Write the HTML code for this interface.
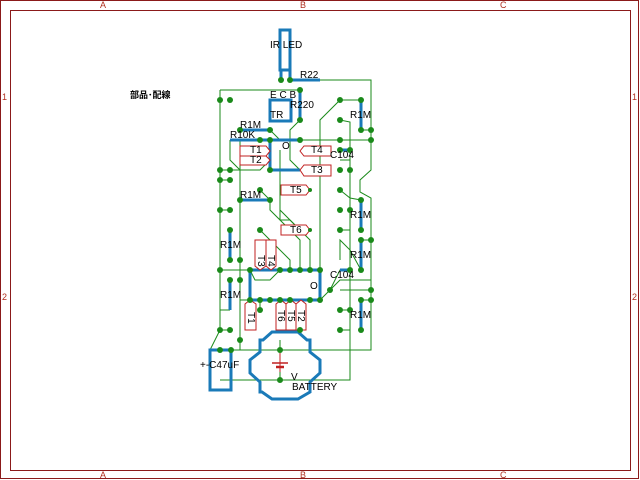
<!DOCTYPE html>
<html><head><meta charset="utf-8"><style>
html,body{margin:0;padding:0;background:#fff;width:640px;height:480px;overflow:hidden}
svg{display:block}
text{font-family:"Liberation Sans","Noto Sans CJK JP",sans-serif;font-size:10px;fill:#000}
.fr{fill:#b03020;font-size:9px}
.g{stroke:#1a8a1a;stroke-width:1;fill:none}
.b{stroke:#1a7ab8;stroke-width:3;fill:none}
.r{stroke:#c02020;stroke-width:1;fill:#fff}
</style></head><body>
<svg width="640" height="480" viewBox="0 0 640 480">
<rect x="0.5" y="0.5" width="638" height="478" fill="none" stroke="#8b1a1a"/>
<rect x="10.5" y="10.5" width="620" height="460" fill="none" stroke="#8b1a1a"/>
<text class="fr" x="100" y="8">A</text><text class="fr" x="300" y="8">B</text><text class="fr" x="500" y="8">C</text>
<text class="fr" x="100" y="478">A</text><text class="fr" x="300" y="478">B</text><text class="fr" x="500" y="478">C</text>
<text class="fr" x="2" y="100">1</text><text class="fr" x="2" y="300">2</text>
<text class="fr" x="632" y="100">1</text><text class="fr" x="632" y="300">2</text>
<text x="130" y="98" style="font-size:9px;font-weight:bold">部品･配線</text>

<g class="g">
<polyline points="320,80 371,80 371,170 360,180 360,192 371,198 371,350 240,350 240,200"/>
<polyline points="220,90 300,90"/>
<polyline points="220,90 220,330 210,350"/>
<polyline points="220,380 350,380 350,148"/>
<polyline points="300,140 371,140"/>
<polyline points="340,100 361,100"/>
<polyline points="340,100 320,120 320,270"/>
<polyline points="340,120 350,122 350,148"/>
<polyline points="230,140 230,160 240,170"/>
<polyline points="220,180 230,180"/>
<polyline points="220,170 260,170 270,160"/>
<polyline points="220,210 230,210"/>
<polyline points="240,140 240,200"/>
<polyline points="270,130 280,140"/>
<polyline points="300,120 290,130 290,160 300,170"/>
<polyline points="280,150 280,220 290,220 300,230"/>
<polyline points="260,190 270,200"/>
<polyline points="270,200 270,210 300,240 300,270"/>
<polyline points="280,200 280,210 310,240 310,270"/>
<polyline points="260,230 290,260 290,270"/>
<polyline points="220,270 250,270 255,280 270,280 280,270"/>
<polyline points="250,300 240,300 240,350"/>
<polyline points="260,300 260,310"/>
<polyline points="320,300 330,290 340,280 371,280"/>
<polyline points="330,290 340,270 350,270"/>
<polyline points="340,160 350,160"/>
<polyline points="340,190 350,198 361,200"/>
<polyline points="340,230 350,230"/>
<polyline points="340,260 340,240 350,250 361,270"/>
<polyline points="340,290 371,290"/>
<polyline points="340,310 350,310"/>
<polyline points="340,330 350,330"/>
<polyline points="361,130 371,130"/>
<polyline points="361,240 371,240"/>
<polyline points="361,300 371,300"/>
<polyline points="220,330 230,330"/>
<polyline points="220,310 230,310"/>
<polyline points="280,340 280,380"/>
<polyline points="280,300 300,330"/>
<polyline points="231,350 240,350"/>
</g>

<g class="b">
<rect x="280" y="30" width="10" height="40"/>
<polyline points="281,70 281,80"/><polyline points="290,70 290,80"/>
<line x1="290" y1="80" x2="320" y2="80"/>
<rect x="270" y="100" width="21" height="21"/>
<line x1="300" y1="90" x2="300" y2="120"/>
<line x1="240" y1="130" x2="270" y2="130"/>
<line x1="230" y1="140" x2="300" y2="140"/>
<line x1="270" y1="140" x2="270" y2="170"/>
<line x1="270" y1="170" x2="300" y2="170"/>
<line x1="240" y1="200" x2="270" y2="200"/>
<line x1="361" y1="100" x2="361" y2="130"/>
<line x1="340" y1="150" x2="350" y2="150"/>
<line x1="361" y1="200" x2="361" y2="230"/>
<line x1="361" y1="240" x2="361" y2="270"/>
<line x1="361" y1="300" x2="361" y2="330"/>
<line x1="340" y1="270" x2="350" y2="270"/>
<line x1="230" y1="230" x2="230" y2="260"/>
<line x1="230" y1="280" x2="230" y2="310"/>
<rect x="250" y="270" width="70" height="30"/>
<rect x="210" y="350" width="21" height="40"/>
<polygon points="272,332 298,332 307,340 310,340 310,352 320,360 320,373 310,382 310,392 298,399 272,399 262,392 260,392 260,382 250,373 250,360 260,352 260,340 263,340"/>
</g>

<g class="r">
<polygon points="240,146 266,146 270,151 266,156 240,156"/>
<polygon points="240,156 266,156 270,160 266,165 240,165"/>
<polygon points="304,146 331,146 331,156 304,156 300,151"/>
<polygon points="304,165 331,165 331,176 304,176 300,170"/>
<polygon points="281,185 306,185 310,190 306,195 281,195"/>
<polygon points="281,225 306,225 310,230 306,235 281,235"/>
<polygon points="255,240 266,240 266,266 260,270 255,266"/>
<polygon points="266,240 276,240 276,266 271,270 266,266"/>
<polygon points="245,304 250,300 256,304 256,330 245,330"/>
<polygon points="276,304 281,300 286,304 286,330 276,330"/>
<polygon points="286,304 291,300 296,304 296,330 286,330"/>
<polygon points="296,304 301,300 306,304 306,330 296,330"/>
<line x1="272" y1="363" x2="288" y2="363" stroke-width="1.5"/>
<line x1="276" y1="367" x2="284" y2="367" stroke-width="2.5"/>
<line x1="280" y1="352" x2="280" y2="372"/>
</g>

<g fill="#1a8a1a">
<circle cx="281" cy="80" r="3"/><circle cx="290" cy="80" r="3"/>
<circle cx="300" cy="90" r="3"/><circle cx="300" cy="120" r="3"/>
<circle cx="220" cy="100" r="3"/><circle cx="230" cy="100" r="3"/>
<circle cx="240" cy="130" r="3"/><circle cx="270" cy="130" r="3"/>
<circle cx="260" cy="140" r="3"/><circle cx="270" cy="140" r="3"/><circle cx="300" cy="140" r="3"/>
<circle cx="270" cy="170" r="3"/><circle cx="220" cy="170" r="3"/><circle cx="230" cy="170" r="3"/>
<circle cx="220" cy="180" r="3"/><circle cx="230" cy="180" r="3"/>
<circle cx="220" cy="210" r="3"/><circle cx="230" cy="210" r="3"/>
<circle cx="240" cy="200" r="3"/><circle cx="270" cy="200" r="3"/><circle cx="260" cy="190" r="3"/>
<circle cx="260" cy="230" r="3"/><circle cx="230" cy="230" r="3"/><circle cx="230" cy="260" r="3"/><circle cx="240" cy="260" r="3"/>
<circle cx="220" cy="270" r="3"/><circle cx="250" cy="270" r="3"/><circle cx="280" cy="270" r="3"/><circle cx="290" cy="270" r="3"/><circle cx="300" cy="270" r="3"/><circle cx="310" cy="270" r="3"/><circle cx="320" cy="270" r="3"/>
<circle cx="230" cy="280" r="3"/><circle cx="240" cy="280" r="3"/>
<circle cx="250" cy="300" r="3"/><circle cx="260" cy="300" r="3"/><circle cx="270" cy="300" r="3"/><circle cx="280" cy="300" r="3"/><circle cx="290" cy="300" r="3"/><circle cx="310" cy="300" r="3"/><circle cx="320" cy="300" r="3"/>
<circle cx="260" cy="310" r="3"/><circle cx="220" cy="330" r="3"/><circle cx="230" cy="330" r="3"/><circle cx="300" cy="330" r="3"/>
<circle cx="240" cy="340" r="3"/><circle cx="220" cy="350" r="3"/><circle cx="231" cy="350" r="3"/>
<circle cx="280" cy="350" r="3"/><circle cx="280" cy="380" r="3"/>
<circle cx="340" cy="100" r="3"/><circle cx="361" cy="100" r="3"/>
<circle cx="340" cy="120" r="3"/><circle cx="361" cy="130" r="3"/><circle cx="371" cy="130" r="3"/>
<circle cx="340" cy="140" r="3"/><circle cx="371" cy="140" r="3"/>
<circle cx="340" cy="150" r="3"/><circle cx="350" cy="150" r="3"/>
<circle cx="340" cy="170" r="3"/><circle cx="350" cy="170" r="3"/>
<circle cx="340" cy="190" r="3"/><circle cx="361" cy="200" r="3"/>
<circle cx="340" cy="210" r="3"/><circle cx="350" cy="210" r="3"/>
<circle cx="361" cy="230" r="3"/><circle cx="340" cy="230" r="3"/>
<circle cx="361" cy="240" r="3"/><circle cx="371" cy="240" r="3"/><circle cx="361" cy="270" r="3"/>
<circle cx="350" cy="270" r="3"/><circle cx="330" cy="290" r="3"/>
<circle cx="371" cy="290" r="3"/><circle cx="371" cy="300" r="3"/><circle cx="361" cy="300" r="3"/>
<circle cx="340" cy="310" r="3"/><circle cx="350" cy="310" r="3"/>
<circle cx="340" cy="330" r="3"/><circle cx="361" cy="330" r="3"/>
<circle cx="310" cy="190" r="2"/><circle cx="310" cy="230" r="2"/>
</g>

<text x="270" y="48">IR LED</text>
<text x="300" y="78">R22</text>
<text x="270" y="98">E C B</text>
<text x="270" y="118">TR</text>
<text x="290" y="108">R220</text>
<text x="240" y="128">R1M</text>
<text x="230" y="138">R10K</text>
<text x="282" y="149">O</text>
<text x="250" y="153">T1</text>
<text x="250" y="163">T2</text>
<text x="311" y="153">T4</text>
<text x="311" y="173">T3</text>
<text x="330" y="158">C104</text>
<text x="290" y="193">T5</text>
<text x="290" y="233">T6</text>
<text x="240" y="198">R1M</text>
<text x="350" y="118">R1M</text>
<text x="350" y="218">R1M</text>
<text x="350" y="258">R1M</text>
<text x="350" y="318">R1M</text>
<text x="220" y="248">R1M</text>
<text x="220" y="298">R1M</text>
<text x="330" y="278">C104</text>
<text x="310" y="289">O</text>
<text x="200" y="368">+-C47uF</text>
<text x="291" y="380">V</text>
<text x="292" y="390">BATTERY</text>
<text transform="translate(258,255) rotate(90)">T3</text>
<text transform="translate(268,255) rotate(90)">T4</text>
<text transform="translate(248,312) rotate(90)">T1</text>
<text transform="translate(278,310) rotate(90)">T6</text>
<text transform="translate(288,310) rotate(90)">T5</text>
<text transform="translate(298,310) rotate(90)">T2</text>
</svg>
</body></html>
